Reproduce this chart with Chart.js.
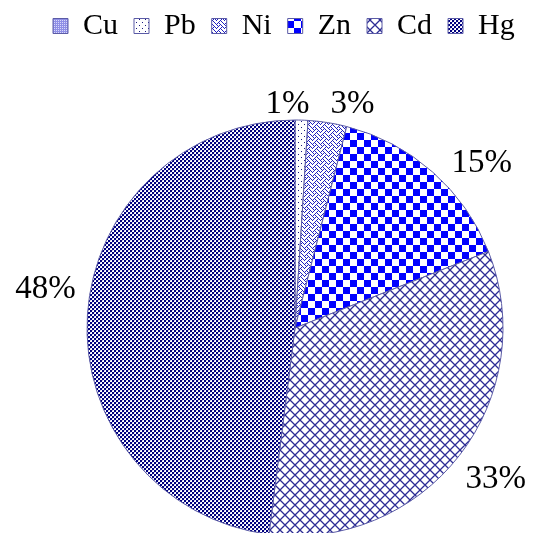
<!DOCTYPE html>
<html>
<head>
<meta charset="utf-8">
<script src="https://cdn.jsdelivr.net/npm/chart.js@4"></script>
<style>
  html, body { margin: 0; padding: 0; background: #fff; overflow: hidden; }
  #wrap { width: 548px; height: 533px; overflow: hidden; position: relative; }
  canvas { display: block; }
</style>
</head>
<body>
<div id="wrap"><canvas id="c" width="553" height="605"></canvas></div>
<script>
// Share of each heavy metal (%)
const metals = ['Cu', 'Pb', 'Ni', 'Zn', 'Cd', 'Hg'];
const shares = [0, 1, 3, 15, 33, 48];

// Small offsets for the percentage labels around the pie
const labelNudge = [[0, 0], [-15, 16], [20, 13], [28, 15], [11, 4], [-10, -24]];

const canvas = document.getElementById('c');
const ctx = canvas.getContext('2d');

function tile(size, paint) {
  const t = document.createElement('canvas');
  t.width = size; t.height = size;
  const g = t.getContext('2d');
  g.fillStyle = '#ffffff';
  g.fillRect(0, 0, size, size);
  paint(g, size);
  return ctx.createPattern(t, 'repeat');
}

function bitTile(rows, color) {
  return tile(8, (g) => {
    g.fillStyle = color;
    rows.forEach((bits, y) => {
      for (let x = 0; x < 8; x++) {
        if (bits & (0x80 >> x)) g.fillRect(x, y, 1, 1);
      }
    });
  });
}

// Cu: fine light lavender dots
const patCu = tile(2, (g) => {
  g.fillStyle = '#8f8fe6';
  g.fillRect(0, 0, 2, 2);
  g.fillStyle = '#d8d8fa';
  g.fillRect(0, 0, 1, 1);
});
// Pb: sparse dots on white
const patPb = tile(6, (g) => {
  g.fillStyle = '#1a1a80';
  g.fillRect(1, 1, 1, 1);
  g.fillRect(4, 4, 1, 1);
});
// Ni: weave
const patNi = bitTile([0x88, 0x54, 0x22, 0x45, 0x88, 0x14, 0x22, 0x51], '#2020c0');
// Zn: large checkerboard
const patZn = tile(14, (g) => {
  g.fillStyle = '#0000ff';
  g.fillRect(0, 0, 7, 7);
  g.fillRect(7, 7, 7, 7);
});
// Cd: diagonal cross-hatch
const patCd = tile(10, (g) => {
  g.strokeStyle = '#2c2c94';
  g.lineWidth = 1.3;
  g.beginPath();
  g.moveTo(0, 0); g.lineTo(10, 10);
  g.moveTo(10, 0); g.lineTo(0, 10);
  g.moveTo(-5, 5); g.lineTo(5, 15);
  g.moveTo(5, -5); g.lineTo(15, 5);
  g.moveTo(5, -5); g.lineTo(-5, 5);
  g.moveTo(15, 5); g.lineTo(5, 15);
  g.stroke();
});
// Hg: small dark checkerboard
const patHg = tile(4, (g) => {
  g.fillStyle = '#00007e';
  g.fillRect(0, 0, 2, 2);
  g.fillRect(2, 2, 2, 2);
  g.fillStyle = '#c8c8e8';
  g.fillRect(2, 0, 1, 1);
  g.fillRect(0, 2, 1, 1);
});

const fills = [patCu, patPb, patNi, patZn, patCd, patHg];

const pctLabels = {
  id: 'pctLabels',
  afterDatasetsDraw(chart) {
    const meta = chart.getDatasetMeta(0);
    const c = chart.ctx;
    c.save();
    c.font = '33px "Liberation Serif", "Times New Roman", serif';
    c.fillStyle = '#000';
    c.textAlign = 'center';
    c.textBaseline = 'middle';
    meta.data.forEach((arc, i) => {
      const v = shares[i];
      if (!v) return;
      const p = arc.getProps(['x', 'y', 'startAngle', 'endAngle', 'outerRadius'], true);
      const mid = (p.startAngle + p.endAngle) / 2;
      const d = p.outerRadius + 32;
      const x = p.x + Math.cos(mid) * d + labelNudge[i][0];
      const y = p.y + Math.sin(mid) * d + labelNudge[i][1];
      c.fillText(v + '%', x, y);
    });
    c.restore();
  }
};

new Chart(ctx, {
  type: 'pie',
  data: {
    labels: metals,
    datasets: [{
      data: shares,
      backgroundColor: fills,
      borderColor: '#5b5ba6',
      borderWidth: [0, 1, 1, 1, 1, 1],
      radius: 208
    }]
  },
  options: {
    responsive: false,
    animation: false,
    events: [],
    layout: { padding: { left: 37, top: -5, right: 0, bottom: 0 } },
    plugins: {
      tooltip: { enabled: false },
      legend: {
        position: 'top',
        align: 'start',
        labels: {
          boxWidth: 15,
          boxHeight: 15,
          padding: 16,
          color: '#000',
          font: { family: '"Liberation Serif", "Times New Roman", serif', size: 30 },
          generateLabels(chart) {
            const items = Chart.controllers.pie.overrides.plugins.legend.labels.generateLabels(chart);
            items.forEach((it) => { it.lineWidth = 1; it.hidden = false; });
            return items;
          }
        }
      }
    }
  },
  plugins: [pctLabels]
});
</script>
</body>
</html>
